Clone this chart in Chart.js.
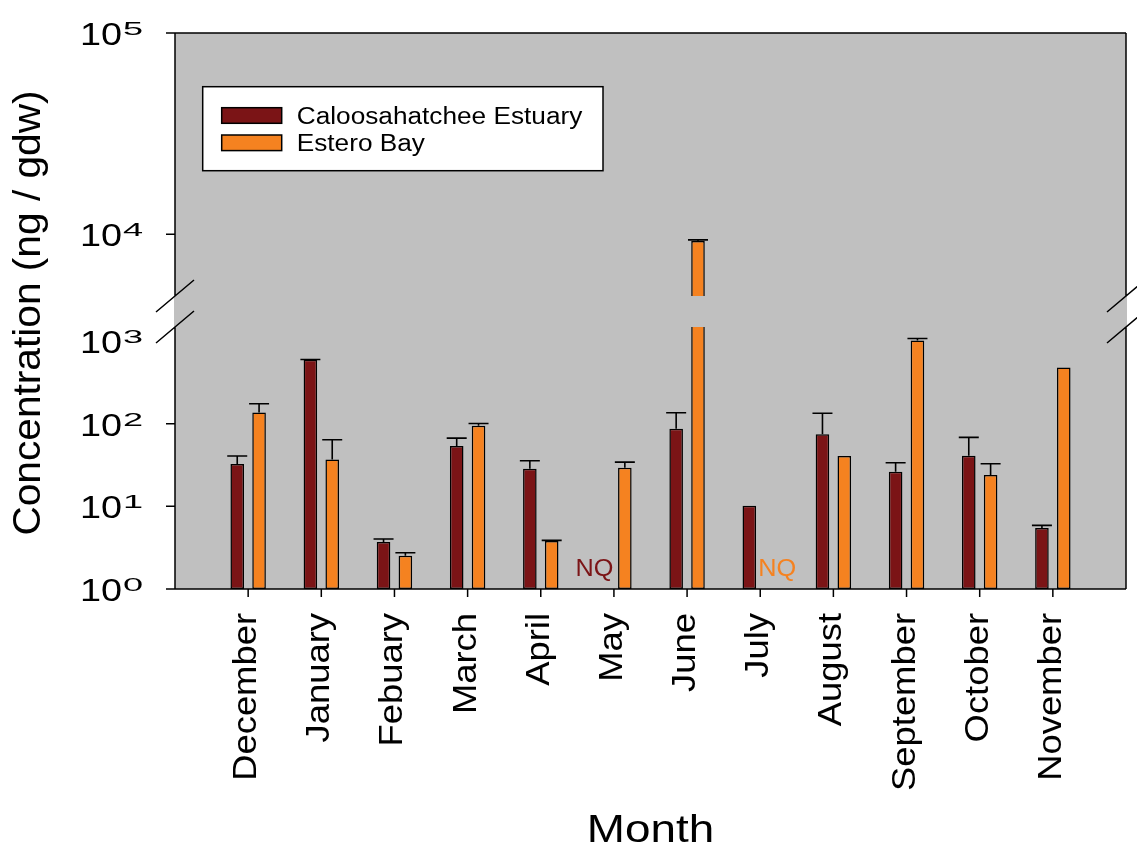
<!DOCTYPE html>
<html>
<head>
<meta charset="utf-8">
<title>Monthly concentration</title>
<script src="https://cdn.jsdelivr.net/npm/chart.js@4.4.1/dist/chart.umd.min.js"></script>
<style>
  html, body { margin: 0; padding: 0; background: #ffffff; }
  #wrap { width: 1137px; height: 847px; }
</style>
</head>
<body>
<div id="wrap"><canvas id="chart" width="1137" height="847"></canvas></div>
<script>
// ---- data -------------------------------------------------------------
const months = ['December', 'January', 'Febuary', 'March', 'April', 'May',
                'June', 'July', 'August', 'September', 'October', 'November'];

// mean concentration (ng / gdw); null = not quantified
const caloosahatchee    = [32.5, 593, 3.70, 53.6, 28.5, null, 86.7, 10.2, 74.3, 26.2, 40.9, 5.47];
const caloosahatcheeErr = [8.1,  6,   0.32, 13.4, 7.1,  null, 48.8, null, 59.7, 7.5,  27.4, 0.42];
const esteroBay         = [137,  37.0, 2.53, 94.4, 3.80, 29.3, 9260, null, 40.6, 1017, 23.9, 480];
const esteroBayErr      = [37,   26.9, 0.22, 6.3,  0.08, 5.0,  110,  null, null, 58,   8.8,  null];

const seriesNames = ['Caloosahatchee Estuary', 'Estero Bay'];
const seriesColors = ['#7b1416', '#f58220'];
const yTickExponents = [0, 1, 2, 3, 4, 5];   // labels 10^n
const yTickMarks = [0, 1, 2, 4, 5];          // exponents that get a tick mark
const notQuantified = [ { month: 'May', series: 0 }, { month: 'July', series: 1 } ];

// ---- broken log axis ---------------------------------------------------
// lower segment: 10^0 .. 10^3.17, upper segment: 10^3.693 .. 10^5
const LOW = { lgFrom: 0, lgTo: 3.17, span: 262 };
const GAP = 31;
const HIGH = { lgFrom: 3.693, lgTo: 5, span: 263 };
const AXIS_MAX = LOW.span + GAP + HIGH.span;

function toAxis(v) {
  if (v == null) return null;
  const lg = Math.log10(v);
  if (lg <= LOW.lgTo) return (lg - LOW.lgFrom) / (LOW.lgTo - LOW.lgFrom) * LOW.span;
  if (lg >= HIGH.lgFrom) return LOW.span + GAP + (lg - HIGH.lgFrom) / (HIGH.lgTo - HIGH.lgFrom) * HIGH.span;
  return LOW.span + (lg - LOW.lgTo) / (HIGH.lgFrom - LOW.lgTo) * GAP;
}

// empty slot at each end of the month axis
const labels = [''].concat(months, ['']);
const pad = arr => [null].concat(arr.map(toAxis), [null]);
const padErr = (vals, errs) => [null].concat(vals.map((v, i) =>
  (v == null || errs[i] == null) ? null : toAxis(v + errs[i])), [null]);

const errorTops = [padErr(caloosahatchee, caloosahatcheeErr), padErr(esteroBay, esteroBayErr)];

// ---- text helper ------------------------------------------------------
const FONT = '"Liberation Sans", Arial, Helvetica, sans-serif';
function drawText(ctx, text, x, y, o) {
  ctx.save();
  ctx.translate(x, y);
  if (o.rotate) ctx.rotate(o.rotate);
  ctx.scale(o.sx || 1, 1);
  ctx.font = o.size + 'px ' + FONT;
  ctx.fillStyle = o.color || '#000';
  ctx.textAlign = o.align || 'left';
  ctx.textBaseline = 'alphabetic';
  ctx.fillText(text, 0, 0);
  ctx.restore();
}
function textWidth(ctx, text, size, sx) {
  ctx.save();
  ctx.font = size + 'px ' + FONT;
  const w = ctx.measureText(text).width * (sx || 1);
  ctx.restore();
  return w;
}

// ---- plugins ----------------------------------------------------------
const plotBackground = {
  id: 'plotBackground',
  beforeDatasetsDraw(chart) {
    const { ctx, chartArea: a } = chart;
    ctx.save();
    ctx.fillStyle = '#c0c0c0';
    ctx.fillRect(a.left, a.top, a.right - a.left, a.bottom - a.top);
    ctx.restore();
  }
};

const breakAndErrors = {
  id: 'breakAndErrors',
  afterDatasetsDraw(chart) {
    const { ctx, chartArea: a, scales } = chart;
    const y = scales.y, x = scales.x;
    // gap of the broken axis
    const gTop = y.getPixelForValue(LOW.span + GAP);
    const gBot = y.getPixelForValue(LOW.span);
    ctx.save();
    ctx.fillStyle = '#c0c0c0';
    ctx.fillRect(a.left - 1, gTop, a.right - a.left + 2, gBot - gTop);

    // upper error bars
    ctx.strokeStyle = '#000';
    ctx.lineWidth = 1.6;
    chart.data.datasets.forEach((ds, di) => {
      const meta = chart.getDatasetMeta(di);
      meta.data.forEach((bar, i) => {
        const top = errorTops[di][i];
        if (top == null || ds.data[i] == null) return;
        const yTop = y.getPixelForValue(top);
        ctx.beginPath();
        ctx.moveTo(bar.x, bar.y);
        ctx.lineTo(bar.x, yTop);
        ctx.moveTo(bar.x - 10, yTop);
        ctx.lineTo(bar.x + 10, yTop);
        ctx.stroke();
      });
    });

    // NQ markers
    notQuantified.forEach(nq => {
      const idx = labels.indexOf(nq.month);
      const cx = x.getPixelForValue(idx) + (nq.series === 0 ? -19.5 : 17);
      drawText(ctx, 'NQ', cx, y.getPixelForValue(0) - 13,
               { size: 23, sx: 1.1, align: 'center', color: seriesColors[nq.series] });
    });
    ctx.restore();
  }
};

const frame = {
  id: 'frame',
  afterDraw(chart) {
    const { ctx, chartArea: a, scales } = chart;
    const y = scales.y, x = scales.x;
    const gTop = y.getPixelForValue(LOW.span + GAP);
    const gBot = y.getPixelForValue(LOW.span);
    ctx.save();
    ctx.strokeStyle = '#000';
    ctx.lineWidth = 1.5;
    ctx.lineCap = 'butt';
    ctx.beginPath();
    // top & bottom
    ctx.moveTo(a.left - 9, a.top); ctx.lineTo(a.right, a.top);
    ctx.moveTo(a.left - 9, a.bottom); ctx.lineTo(a.right, a.bottom);
    // left & right, interrupted at the break
    [a.left, a.right].forEach(px => {
      ctx.moveTo(px, a.top); ctx.lineTo(px, gTop);
      ctx.moveTo(px, gBot); ctx.lineTo(px, a.bottom);
    });
    // y tick marks
    yTickMarks.forEach(n => {
      const py = y.getPixelForValue(toAxis(Math.pow(10, n)));
      ctx.moveTo(a.left - 9, py); ctx.lineTo(a.left, py);
    });
    // x tick marks
    months.forEach((m, i) => {
      const px = x.getPixelForValue(i + 1);
      ctx.moveTo(px, a.bottom); ctx.lineTo(px, a.bottom + 8);
    });
    // break slashes
    [a.left, a.right].forEach(px => {
      [gTop, gBot].forEach(py => {
        ctx.moveTo(px - 19, py + 16); ctx.lineTo(px + 19, py - 16);
      });
    });
    ctx.stroke();

    // y tick labels 10^n
    yTickExponents.forEach(n => {
      const py = y.getPixelForValue(toAxis(Math.pow(10, n)));
      const xr = a.left - 32;
      const ew = textWidth(ctx, String(n), 19, 1.9);
      drawText(ctx, String(n), xr - ew, py + 2, { size: 19, sx: 1.9 });
      drawText(ctx, '10', xr - ew - 1, py + 12, { size: 31.5, sx: 1.2, align: 'right' });
    });

    // month labels
    months.forEach((m, i) => {
      const px = x.getPixelForValue(i + 1);
      drawText(ctx, m, px + 8, a.bottom + 24,
               { size: 34, sx: 1.07, align: 'right', rotate: -Math.PI / 2 });
    });

    // axis titles
    drawText(ctx, 'Concentration (ng / gdw)', 40, 313,
             { size: 38, sx: 1.07, align: 'center', rotate: -Math.PI / 2 });
    drawText(ctx, 'Month', (a.left + a.right) / 2, 842, { size: 39.5, sx: 1.16, align: 'center' });

    // legend
    const lx = a.left + 27.7, ly = a.top + 53.7, lw = 400.3, lh = 84;
    ctx.fillStyle = '#ffffff';
    ctx.fillRect(lx, ly, lw, lh);
    ctx.strokeRect(lx, ly, lw, lh);
    chart.data.datasets.forEach((ds, di) => {
      const sy = ly + 21 + di * 27.3;
      ctx.fillStyle = ds.backgroundColor;
      ctx.fillRect(lx + 19, sy, 60, 15.6);
      ctx.strokeRect(lx + 19, sy, 60, 15.6);
      drawText(ctx, ds.label, lx + 94, sy + 16.3, { size: 23, sx: 1.14 });
    });
    ctx.restore();
  }
};

// ---- chart ------------------------------------------------------------
new Chart(document.getElementById('chart'), {
  type: 'bar',
  data: {
    labels: labels,
    datasets: [
      { label: seriesNames[0], data: pad(caloosahatchee), backgroundColor: seriesColors[0],
        borderColor: '#000', borderWidth: 1.5, borderSkipped: false },
      { label: seriesNames[1], data: pad(esteroBay), backgroundColor: seriesColors[1],
        borderColor: '#000', borderWidth: 1.5, borderSkipped: false }
    ]
  },
  options: {
    responsive: false,
    devicePixelRatio: 1,
    animation: false,
    layout: { padding: { left: 175, right: 11, top: 33, bottom: 258 } },
    datasets: { bar: { categoryPercentage: 0.597, barPercentage: 0.622 } },
    scales: {
      x: { type: 'category', offset: false, display: false },
      y: { type: 'linear', min: 0, max: AXIS_MAX, display: false }
    },
    plugins: { legend: { display: false }, tooltip: { enabled: false } }
  },
  plugins: [plotBackground, breakAndErrors, frame]
});
</script>
</body>
</html>
